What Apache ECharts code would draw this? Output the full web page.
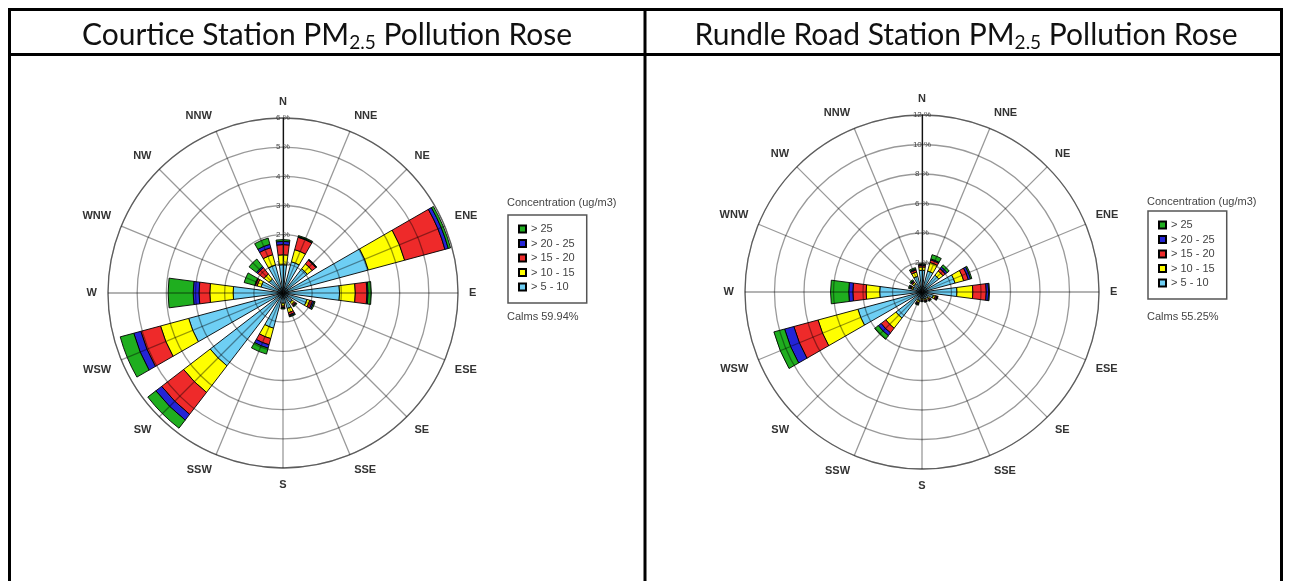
<!DOCTYPE html>
<html>
<head>
<meta charset="utf-8">
<title>PM2.5 Pollution Rose</title>
<script src="https://cdn.jsdelivr.net/npm/echarts@6/dist/echarts.min.js"></script>
<style>
  * { margin: 0; padding: 0; }
  body { background: #fff; }
  #main { width: 1290px; height: 581px; }
</style>
</head>
<body>
<!-- two wind roses side by side -->
<div id="main"></div>
<script>
  var directions = ['N', 'NNE', 'NE', 'ENE', 'E', 'ESE', 'SE', 'SSE', 'S', 'SSW', 'SW', 'WSW', 'W', 'WNW', 'NW', 'NNW'];
  var bins = ['> 5 - 10', '> 10 - 15', '> 15 - 20', '> 20 - 25', '> 25'];
  var legendOrder = ['> 25', '> 20 - 25', '> 15 - 20', '> 10 - 15', '> 5 - 10'];
  var binColors = ['#6ecff4', '#ffff00', '#ee2a2a', '#2424d6', '#1fae1f'];

  // Courtice, % of hours per direction (each bin stacked outward)
  var courtice_5_10 = [0.97, 1.11, 1.05, 3.03, 1.94, 0.85, 0.40, 0.55, 0.35, 1.25, 3.15, 3.35, 1.71, 0.78, 0.60, 0.99];
  var courtice_10_15 = [0.34, 0.43, 0.21, 1.29, 0.54, 0.10, 0.10, 0.15, 0.10, 0.37, 1.15, 1.00, 0.80, 0.14, 0.22, 0.37];
  var courtice_15_20 = [0.35, 0.44, 0.16, 1.43, 0.40, 0.10, 0.05, 0.08, 0.05, 0.22, 0.95, 0.70, 0.37, 0.06, 0.28, 0.25];
  var courtice_20_25 = [0.11, 0.02, 0.02, 0.12, 0.04, 0.05, 0.02, 0.04, 0.02, 0.12, 0.25, 0.25, 0.20, 0.02, 0.05, 0.12];
  var courtice_25 = [0.06, 0.04, 0.02, 0.08, 0.11, 0.04, 0.03, 0.03, 0.03, 0.21, 0.35, 0.48, 0.86, 0.38, 0.32, 0.22];
  var courticeMax = 6, courticeStep = 1;
  var courticeCalms = 'Calms 59.94%';

  // Rundle Road
  var rundle_5_10 = [1.47, 1.47, 1.44, 2.32, 2.37, 0.80, 0.55, 0.50, 0.45, 0.60, 2.23, 4.50, 2.87, 0.65, 0.70, 1.10];
  var rundle_10_15 = [0.23, 0.61, 0.36, 0.61, 1.08, 0.15, 0.10, 0.10, 0.10, 0.15, 0.87, 2.80, 0.92, 0.10, 0.12, 0.30];
  var rundle_15_20 = [0.10, 0.17, 0.20, 0.32, 0.91, 0.10, 0.07, 0.06, 0.05, 0.07, 0.40, 1.70, 0.90, 0.07, 0.08, 0.15];
  var rundle_20_25 = [0.07, 0.07, 0.15, 0.16, 0.16, 0.05, 0.04, 0.04, 0.03, 0.06, 0.24, 0.65, 0.28, 0.06, 0.06, 0.07];
  var rundle_25 = [0.05, 0.30, 0.18, 0.09, 0.06, 0.03, 0.04, 0.02, 0.03, 0.05, 0.31, 0.75, 1.23, 0.07, 0.09, 0.09];
  var rundleMax = 12, rundleStep = 2;
  var rundleCalms = 'Calms 55.25%';

  var gridLine = { color: 'rgba(0,0,0,0.4)', width: 1.3 };
  var sector = 360 / directions.length;

  // polar 0/2 = grid (spokes, rings, % labels), polar 1/3 = bars + compass labels
  function gridAngleAxis(idx) {
    return {
      polarIndex: idx,
      type: 'value',
      min: 0, max: 360, interval: sector,
      startAngle: 90,
      z: 5,
      axisLine: { lineStyle: gridLine },
      axisTick: { show: false },
      axisLabel: { show: false },
      splitLine: { show: true, lineStyle: gridLine }
    };
  }

  function barAngleAxis(idx) {
    return {
      polarIndex: idx,
      type: 'category',
      data: directions,
      startAngle: 90 + sector / 2,
      axisLine: { show: false },
      axisTick: { show: false },
      splitLine: { show: false },
      axisLabel: {
        interval: 0, margin: 11, fontSize: 11, fontWeight: 'bold',
        fontFamily: 'Liberation Sans', color: '#333'
      }
    };
  }

  function gridRadiusAxis(idx, max, step) {
    return {
      polarIndex: idx,
      type: 'value',
      min: 0, max: max, interval: step,
      z: 5,
      axisLine: { show: true, lineStyle: { color: '#111', width: 1.2 } },
      axisTick: { show: false },
      splitLine: { show: true, lineStyle: gridLine },
      axisLabel: {
        formatter: '{value} %', showMinLabel: false, margin: 0,
        align: 'center', verticalAlign: 'middle',
        fontSize: 8, fontFamily: 'Liberation Sans', color: '#444'
      }
    };
  }

  function barRadiusAxis(idx, max) {
    return {
      polarIndex: idx,
      type: 'value',
      min: 0, max: max,
      axisLine: { show: false },
      axisTick: { show: false },
      axisLabel: { show: false },
      splitLine: { show: false }
    };
  }

  function roseSeries(idx, arrays) {
    return arrays.map(function (arr, i) {
      return {
        type: 'bar',
        coordinateSystem: 'polar',
        polarIndex: idx,
        name: bins[i],
        stack: 'rose' + idx,
        barWidth: '66%',
        data: arr,
        itemStyle: { color: binColors[i], borderColor: '#000', borderWidth: 0.9 }
      };
    });
  }

  function legendBox(left, top) {
    return {
      data: legendOrder,
      orient: 'vertical',
      left: left, top: top,
      selectedMode: false,
      icon: 'rect',
      itemWidth: 7, itemHeight: 7, itemGap: 1.5,
      padding: [7.5, 12, 9.5, 10],
      borderColor: '#555', borderWidth: 1.5,
      textStyle: { fontSize: 11, lineHeight: 13, fontFamily: 'Liberation Sans', color: '#444' }
    };
  }

  function smallText(x, y, text) {
    return {
      type: 'text', x: x, y: y, z: 10,
      style: { text: text, font: '11px "Liberation Sans"', fill: '#444', verticalAlign: 'middle' }
    };
  }

  function titleText(x, text) {
    return {
      type: 'text', x: x, y: 35, z: 10,
      style: {
        text: text,
        font: '30px Lato',
        fill: '#111',
        align: 'center',
        verticalAlign: 'middle',
        lineHeight: 34,
        rich: { s: { fontSize: 19, fontFamily: 'Lato', lineHeight: 16, verticalAlign: 'bottom', fill: '#111' } }
      }
    };
  }

  function frameLine(x1, y1, x2, y2) {
    return {
      type: 'line', z: 10,
      shape: { x1: x1, y1: y1, x2: x2, y2: y2 },
      style: { stroke: '#000', lineWidth: 3 }
    };
  }

  var chart = echarts.init(document.getElementById('main'));
  chart.setOption({
    backgroundColor: '#fff',
    animation: false,
    polar: [
      { center: [283, 293], radius: 175 },
      { center: [283, 293], radius: 175 },
      { center: [922, 292], radius: 177 },
      { center: [922, 292], radius: 177 }
    ],
    angleAxis: [gridAngleAxis(0), barAngleAxis(1), gridAngleAxis(2), barAngleAxis(3)],
    radiusAxis: [
      gridRadiusAxis(0, courticeMax, courticeStep), barRadiusAxis(1, courticeMax),
      gridRadiusAxis(2, rundleMax, rundleStep), barRadiusAxis(3, rundleMax)
    ],
    legend: [legendBox(508, 215), legendBox(1148, 211)],
    series: roseSeries(1, [courtice_5_10, courtice_10_15, courtice_15_20, courtice_20_25, courtice_25])
      .concat(roseSeries(3, [rundle_5_10, rundle_10_15, rundle_15_20, rundle_20_25, rundle_25])),
    graphic: [
      frameLine(8, 9.5, 1283, 9.5),
      frameLine(8, 54.5, 1283, 54.5),
      frameLine(9.5, 8, 9.5, 581),
      frameLine(645, 8, 645, 581),
      frameLine(1281.5, 8, 1281.5, 581),
      titleText(327, 'Courtice Station PM{s|2.5} Pollution Rose'),
      titleText(966, 'Rundle Road Station PM{s|2.5} Pollution Rose'),
      smallText(507, 203, 'Concentration (ug/m3)'),
      smallText(507, 317, courticeCalms),
      smallText(1147, 202, 'Concentration (ug/m3)'),
      smallText(1147, 317, rundleCalms)
    ]
  });
</script>
</body>
</html>
